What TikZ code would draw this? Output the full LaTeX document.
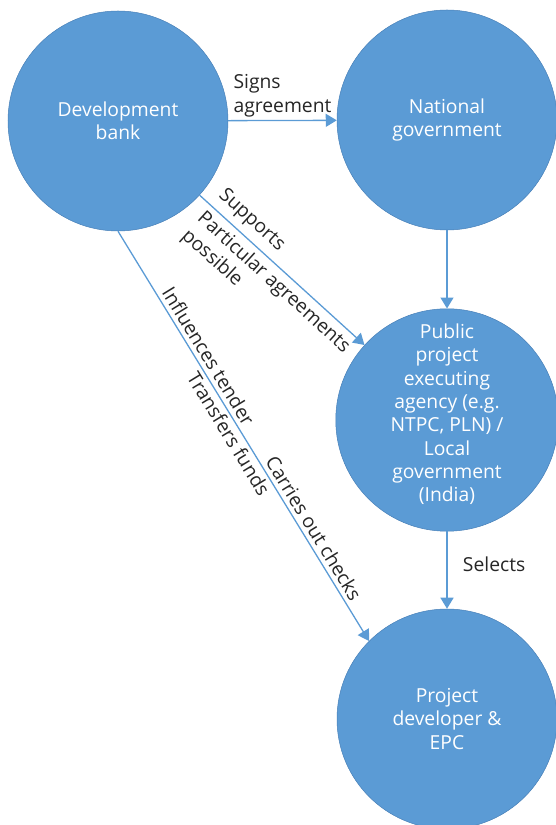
\documentclass[tikz,border=0pt]{standalone}
\usepackage{fontspec}
\setmainfont{Open Sans}
\usetikzlibrary{positioning}
\usetikzlibrary{arrows.meta}
\usetikzlibrary{math}

\definecolor{actorblue}{RGB}{91,155,213}
\definecolor{rimblue}{RGB}{72,128,184}
\definecolor{labelgray}{RGB}{38,38,38}

\begin{document}
\begin{tikzpicture}[x=1pt,y=1pt,
  font=\fontsize{19.3}{23.3}\selectfont,
  actor/.style={circle, fill=actorblue, draw=rimblue, line width=0.5pt,
    minimum size=220pt, inner sep=0pt, text=white, align=center},
  flow/.style={draw=actorblue, line width=1.3pt,
    -{Triangle[length=11pt,width=13pt]}},
  lbl/.style={text=labelgray, align=left}]

  \tikzmath{
    \xleft  = 118; % column of the bank
    \xright = 447; % column of the other actors
  }

  % frame of the page
  \useasboundingbox (0,0) rectangle (556,825);

  % the four actors
  \node[actor] (bank)   at (\xleft, 704)  {Development\\bank};
  \node[actor] (gov)    at (\xright, 705) {National\\government};
  \node[actor] (agency) at (\xright, 405)
    {Public\\project\\executing\\agency (e.g.\\NTPC, PLN) /\\Local\\government\\(India)\\[-9pt]};
  \node[actor] (dev)    at (\xright, 106) {Project\\developer \&\\EPC};

  % flows out of the bank
  \draw[flow] (bank) -- node[lbl, above, inner sep=3pt] {Signs\\agreement} (gov);

  \draw[flow] (bank) --
    node[lbl, sloped, above, pos=0.25, inner sep=6pt] {Supports}
    node[lbl, sloped, below, pos=0.51, inner sep=5pt] {Particular agreements\\possible}
    (agency);

  \draw[flow] (bank.south) --
    node[lbl, sloped, above, pos=0.32, inner sep=4pt] {Influences tender}
    node[lbl, sloped, below, pos=0.48, inner sep=3pt] {Transfers funds}
    node[lbl, sloped, above, pos=0.74, inner sep=4pt] {Carries out checks}
    (dev.135);

  % flows down the right column
  \draw[flow] (gov) -- (agency);
  \draw[flow] (agency) -- node[lbl, right, pos=0.42, xshift=12pt] {Selects} (dev);

\end{tikzpicture}
\end{document}
